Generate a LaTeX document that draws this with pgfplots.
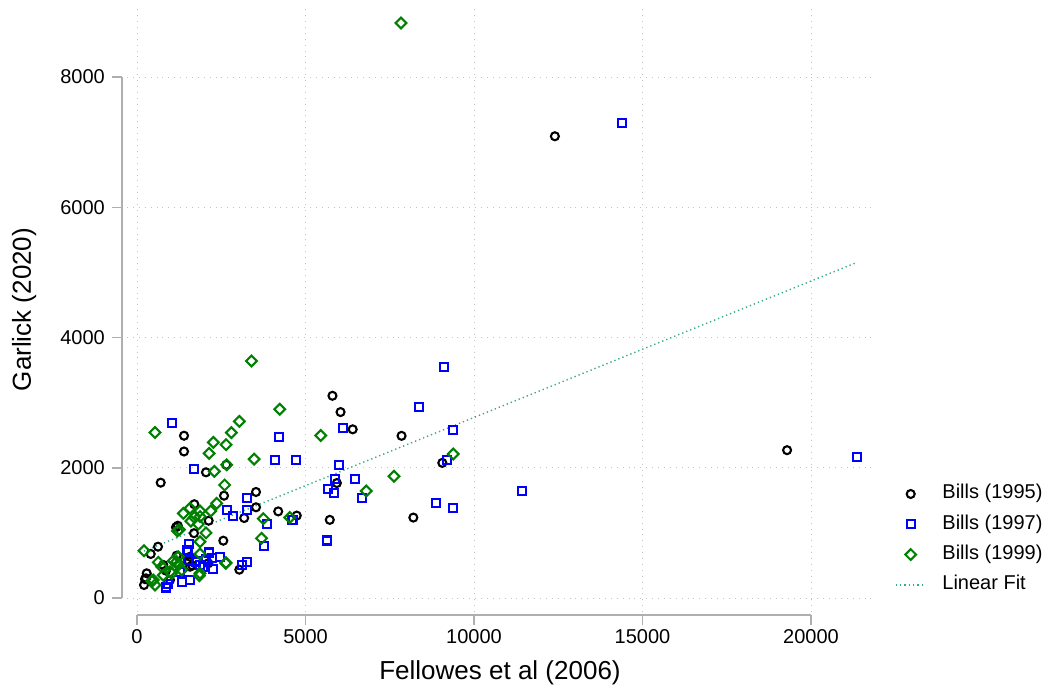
\documentclass[border=0pt]{standalone}
\usepackage{fontspec}
\setmainfont{Liberation Sans}
\usepackage{pgfplots}
\usepackage{pgfplotstable}
\pgfplotsset{compat=1.18}
\definecolor{fitc}{RGB}{50,170,140}
\definecolor{grn}{RGB}{0,128,0}
\definecolor{blu}{RGB}{0,0,255}
\definecolor{axgray}{RGB}{175,175,175}
\definecolor{gridgray}{RGB}{195,195,195}

\pgfplotstableread{
x y
12400 7090
19290 2270
5800 3105
6040 2855
6400 2590
7850 2490
9060 2075
5930 1765
5720 1200
8200 1235
4740 1265
4190 1330
1395 2492
1395 2250
2047 1930
703 1771
2650 2045
3531 1628
2582 1571
1701 1440
3531 1393
3180 1228
2127 1187
2561 880
1691 995
1157 1086
1210 1110
623 788
407 676
3036 435
208 200
288 379
267 302
237 290
780 507
1177 650
1573 481
979 276
2116 533
1573 634
1640 500
1540 560
860 420
}\bills

\pgfplotstableread{
x y
14390 7290
21365 2170
11420 1645
9120 3552
8370 2938
6120 2606
9386 2585
9208 2119
4718 2125
6003 2042
6469 1823
5870 1830
5655 1680
5846 1615
6667 1542
8872 1454
9386 1387
5629 883
4615 1200
4223 2467
4100 2119
3260 1531
2661 1346
2858 1254
3260 1356
3848 1138
3777 798
3255 548
3107 502
2146 696
2215 610
2463 625
2245 450
1030 2690
1701 1985
1543 829
1523 711
1573 276
1325 251
861 162
929 210
1276 404
1523 583
1869 507
1968 481
1493 737
2136 711
1750 560
2050 600
}\billsb

\pgfplotstableread{
x y
7834 8829
3400 3639
4238 2898
3036 2712
2800 2540
2265 2390
2641 2355
2141 2220
3477 2132
2661 2045
2294 1945
2600 1735
2364 1454
2186 1336
1870 1250
5455 2495
9386 2211
7626 1868
6804 1643
4530 1236
3748 1218
3695 916
2632 533
2047 1000
534 2540
208 726
534 200
484 276
632 548
733 481
780 350
979 404
1077 570
1226 634
1226 507
1325 430
1177 557
1256 1050
1200 1030
1374 1300
1573 1377
1701 1239
1869 1336
1820 1136
1869 865
1869 676
1849 343
2641 542
435 261
1030 379
1869 379
1600 1180
}\billsc

\begin{document}
\begin{tikzpicture}[x=1pt,y=1pt]
\path[use as bounding box] (0,0) rectangle (1046,689);
\begin{axis}[
  at={(127pt,77pt)}, anchor=south west,
  scale only axis, width=746pt, height=605pt,
  xmin=-297, xmax=21840, ymin=-215, ymax=9075,
  clip=false,
  axis line style={draw=none},
  xtick={0,5000,10000,15000,20000},
  ytick={0,2000,4000,6000,8000},
  major tick length=0pt,
  grid=major,
  major grid style={gridgray, line width=0.9pt, dash pattern=on 0.9pt off 5pt},
  scaled ticks=false,
  /pgf/number format/1000 sep={},
  /pgf/number format/assume math mode=true,
  tick label style={font=\fontsize{20}{24}\selectfont, inner sep=0pt},
  yticklabel style={xshift=-22pt},
  xticklabel style={yshift=-17pt},
  xlabel={Fellowes et al (2006)},
  ylabel={Garlick (2020)},
  label style={font=\fontsize{26}{30}\selectfont},
  xlabel style={at={(axis description cs:0.5,-0.1)}, anchor=center},
  ylabel style={at={(axis description cs:-0.138,0.5)}, anchor=center},
  legend cell align=left,
  legend style={at={(rel axis cs:1.0295,0.2116)}, anchor=north west, draw=none, fill=none,
    inner sep=0pt, outer sep=0pt, font=\fontsize{20}{24}\selectfont,
    row sep=10.3pt, column sep=16pt,
    nodes={inner sep=0pt, text height=15pt, text depth=5pt}},
  legend image code/.code={\draw[mark repeat=2,mark phase=2,#1] plot coordinates {(0pt,0pt) (15pt,0pt) (30pt,0pt)};},
]
\addplot[only marks, mark=o, mark size=4pt, black, line width=2.1pt] table {\bills};
\addlegendentry{Bills (1995)}
\addplot[only marks, mark=square, mark size=4pt, blu, line width=2.1pt] table {\billsb};
\addlegendentry{Bills (1997)}
\addplot[only marks, mark=square, mark size=3.8pt, mark options={rotate=45}, grn, line width=2.1pt] table {\billsc};
\addlegendentry{Bills (1999)}
\addplot[fitc, line width=1.4pt, dash pattern=on 1.3pt off 3pt] coordinates {(208,721) (21365,5153)};
\addlegendentry{Linear Fit}

\draw[axgray, line width=1.5pt] ([xshift=-5pt]axis cs:-297,0) -- ([xshift=-5pt]axis cs:-297,8000);
\pgfplotsinvokeforeach{0,2000,4000,6000,8000}{\draw[axgray, line width=1.5pt] ([xshift=-5pt]axis cs:-297,#1) -- ++(-10pt,0pt);}
\draw[axgray, line width=1.5pt] ([yshift=-3pt]axis cs:0,-215) -- ([yshift=-3pt]axis cs:20000,-215);
\pgfplotsinvokeforeach{0,5000,10000,15000,20000}{\draw[axgray, line width=1.5pt] ([yshift=-3pt]axis cs:#1,-215) -- ++(0pt,-10pt);}
\end{axis}
\end{tikzpicture}
\end{document}
